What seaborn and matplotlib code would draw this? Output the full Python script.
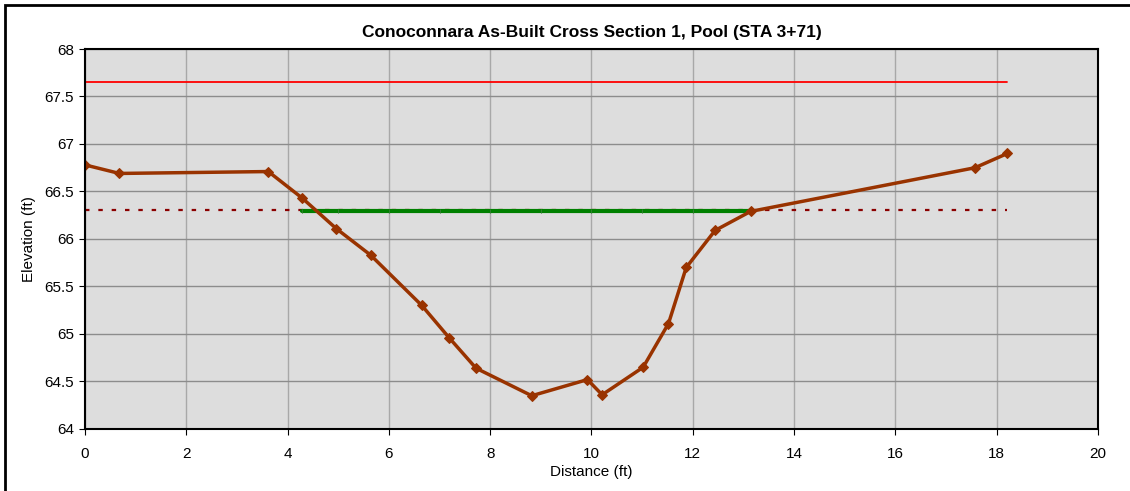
import matplotlib
matplotlib.use("Agg")
import matplotlib.pyplot as plt
import seaborn as sns
import pandas as pd
from matplotlib.patches import Rectangle

# Data
distance = [0.0, 0.68, 3.62, 4.29, 4.96, 5.64, 6.65, 7.19, 7.72, 8.82, 9.92, 10.21,
            11.02, 11.52, 11.87, 12.44, 13.14, 17.57, 18.21]
elevation = [66.78, 66.69, 66.71, 66.43, 66.11, 65.83, 65.30, 64.96, 64.64, 64.35,
             64.52, 64.36, 64.65, 65.11, 65.70, 66.09, 66.29, 66.75, 66.90]
top_bank_x = [0.0, 18.21]
top_bank_y = [67.65, 67.65]
bankfull_x = [0.0, 18.21]
bankfull_y = [66.31, 66.31]
water_x = [4.28, 5.0, 6.0, 7.0, 8.0, 9.0, 10.0, 11.0, 12.0, 13.14]
water_y = [66.29] * 10

title = "Conoconnara As-Built Cross Section 1, Pool (STA 3+71)"

sns.set_style("white")
plt.rcParams['font.family'] = ['Liberation Sans', 'DejaVu Sans']
plt.rcParams['text.color'] = 'black'
plt.rcParams['axes.labelcolor'] = 'black'
plt.rcParams['xtick.color'] = 'black'
plt.rcParams['ytick.color'] = 'black'

fig = plt.figure(figsize=(11.3, 4.91), dpi=100)
ax = fig.add_axes([0.0752, 0.1263, 0.8965, 0.7739])
ax.set_facecolor("#DDDDDD")

sns.lineplot(x=top_bank_x, y=top_bank_y, ax=ax, color="#FF0000", linewidth=1.3)
sns.lineplot(x=bankfull_x, y=bankfull_y, ax=ax, color="#8B0000", linewidth=1.6,
             linestyle=(0, (2, 4)))
sns.lineplot(x=water_x, y=water_y, ax=ax, color="#008000", linewidth=3,
             marker="|", markersize=3, markeredgecolor="#2E7D2E")
df = pd.DataFrame({"Distance": distance, "Elevation": elevation})
sns.lineplot(data=df, x="Distance", y="Elevation", ax=ax, sort=False,
             color="#993300", linewidth=2.5, marker="D", markersize=5,
             markeredgecolor="#993300")

ax.set_xlim(0, 20)
ax.set_ylim(64, 68)
ax.set_xticks(range(0, 21, 2))
ax.set_yticks([64, 64.5, 65, 65.5, 66, 66.5, 67, 67.5, 68])
ax.set_yticklabels(["64", "64.5", "65", "65.5", "66", "66.5", "67", "67.5", "68"])
ax.xaxis.grid(True, color="#A8A8A8", linewidth=1)
ax.yaxis.grid(True, color="#8C8C8C", linewidth=1)
ax.set_axisbelow(True)
for s in ax.spines.values():
    s.set_color("black")
    s.set_linewidth(1.5)
ax.tick_params(axis="both", labelsize=11, length=4, color="black", direction="out",
               bottom=True, left=True)
ax.tick_params(axis="x", pad=9)
ax.tick_params(axis="y", pad=4)
ax.set_xlabel("Distance (ft)", fontsize=11, labelpad=3)
ax.set_ylabel("Elevation (ft)", fontsize=11, labelpad=6)
ax.set_title(title, fontsize=12.5, fontweight="bold", pad=9)

fig.patches.append(Rectangle((5/1130, -0.01), 1.02, 1 - 5/491 + 0.01,
                             transform=fig.transFigure, fill=False,
                             edgecolor="black", linewidth=2))

fig.savefig("out.png", dpi=100)
